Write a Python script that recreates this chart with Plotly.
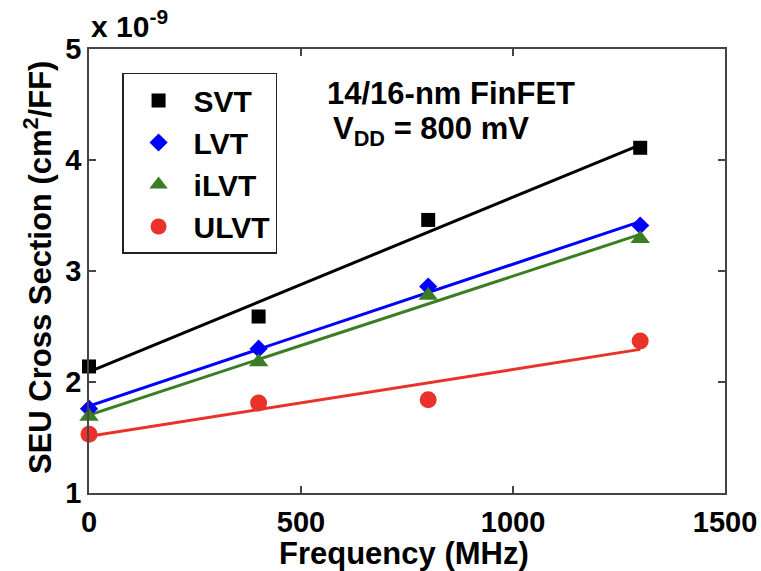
import numpy as np
import plotly.graph_objects as go

freq = [0, 400, 800, 1300]
svt = [2.14, 2.59, 3.46, 4.11]
lvt = [1.76, 2.30, 2.86, 3.41]
ilvt = [1.69, 2.18, 2.78, 3.29]
ulvt = [1.53, 1.81, 1.84, 2.37]

names = ["SVT", "LVT", "iLVT", "ULVT"]
series = [svt, lvt, ilvt, ulvt]
colors = ["#000000", "#0000ff", "#3a7d22", "#e8322a"]
symbols = ["square", "diamond", "triangle-up", "circle"]
sizes = [14, 14, 17, 17]

FONT = "Liberation Sans, Arial, sans-serif"

fig = go.Figure()
x = np.array(freq, dtype=float)
# fit lines
for name, ys, c in zip(names, series, colors):
    k, b = np.polyfit(x, np.array(ys), 1)
    fig.add_trace(go.Scatter(x=freq, y=list(k * x + b), mode="lines",
                             line=dict(color=c, width=3), showlegend=False,
                             hoverinfo="skip", cliponaxis=False))
# markers
for name, ys, c, s, sz in zip(names, series, colors, symbols, sizes):
    fig.add_trace(go.Scatter(x=freq, y=ys, mode="markers", name=name,
                             marker=dict(color=c, symbol=s, size=sz, line=dict(width=0)),
                             cliponaxis=False))

axis_common = dict(showline=True, linecolor="#444444", linewidth=1.5, mirror="ticks",
                   ticks="inside", ticklen=7, tickwidth=1.5, tickcolor="#444444",
                   showgrid=False, zeroline=False, automargin=False,
                   tickfont=dict(family=FONT, size=29, color="black", weight=700))

fig.update_xaxes(range=[0, 1500], tickvals=[0, 500, 1000, 1500], ticklabelstandoff=2, **axis_common)
fig.update_yaxes(range=[1, 5], tickvals=[1, 2, 3, 4, 5], **axis_common)

fig.update_layout(
    width=761, height=571,
    margin=dict(l=89, r=36, t=49, b=78),
    paper_bgcolor="white", plot_bgcolor="white",
    font=dict(family=FONT, color="black"),
    legend=dict(x=0.052, y=0.946, xanchor="left", yanchor="top",
                bordercolor="#222222", borderwidth=1.5, bgcolor="white",
                font=dict(family=FONT, size=30, color="black", weight=700),
                itemwidth=60, tracegroupgap=0),
    annotations=[
        dict(text="Frequency (MHz)", xref="paper", yref="paper", x=(404 - 89) / 636, y=(493 - 553) / 444,
             xanchor="center", yanchor="middle", showarrow=False,
             font=dict(family=FONT, size=31, weight=700)),
        dict(text="SEU Cross Section (cm<sup>2</sup>/FF)", xref="paper", yref="paper",
             x=(38 - 89) / 636, y=(493 - 268) / 444, textangle=-90,
             xanchor="center", yanchor="middle", showarrow=False,
             font=dict(family=FONT, size=31, weight=700)),
        dict(text="x 10<sup>-9</sup>", xref="paper", yref="paper",
             x=(89 - 89) / 636, y=(493 - 24) / 444, xanchor="left", yanchor="middle", showarrow=False,
             font=dict(family=FONT, size=30, weight=700)),
        dict(text="14/16-nm FinFET", xref="paper", yref="paper",
             x=(451 - 89) / 636, y=(493 - 93) / 444, xanchor="center", yanchor="middle",
             showarrow=False, font=dict(family=FONT, size=31, weight=700)),
        dict(text="V<sub>DD</sub> = 800 mV", xref="paper", yref="paper",
             x=(331 - 89) / 636, y=(493 - 131) / 444, xanchor="left", yanchor="middle",
             showarrow=False, font=dict(family=FONT, size=31, weight=700)),
    ],
)

fig.write_html("out.html")
